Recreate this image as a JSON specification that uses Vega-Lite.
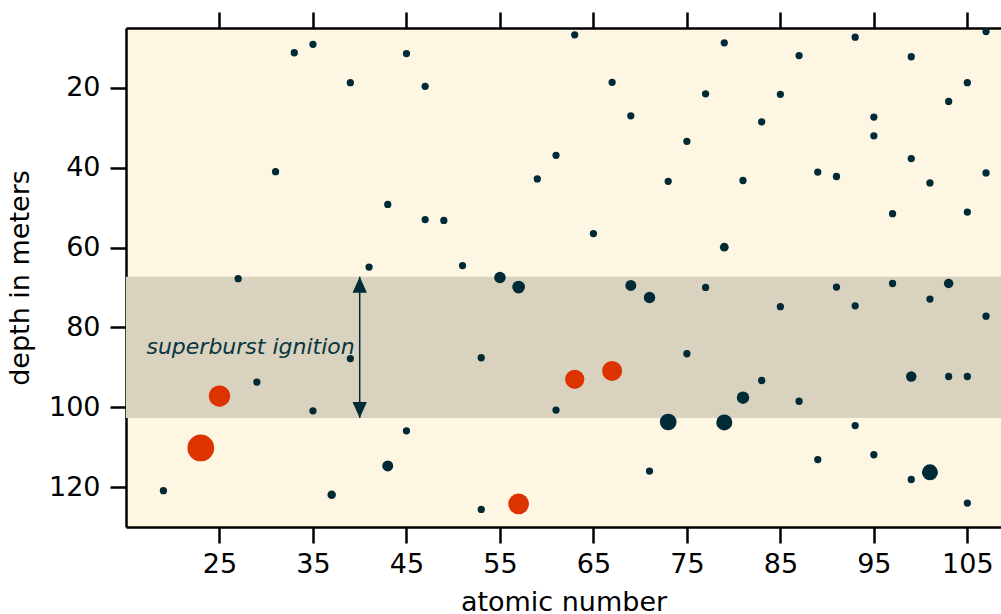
{
  "$schema": "https://vega.github.io/schema/vega-lite/v6.json",
  "width": 875,
  "height": 499,
  "autosize": {"type": "none"},
  "padding": {"left": 126, "top": 28, "right": 0, "bottom": 87},
  "background": "white",
  "config": {
    "view": {"fill": "#fdf6e3", "stroke": null},
    "font": "DejaVu Sans",
    "axis": {
      "domainColor": "black",
      "domainWidth": 2.5,
      "tickColor": "black",
      "tickWidth": 2.5,
      "tickSize": 16,
      "labelFont": "DejaVu Sans",
      "labelFontSize": 27,
      "labelColor": "black",
      "titleFont": "DejaVu Sans",
      "titleFontSize": 27,
      "titleFontWeight": "normal",
      "titleColor": "black",
      "grid": false,
      "labelPadding": 8
    }
  },
  "datasets": {
    "pts": [
      {"Z": 33, "depth": 11.2, "mag": 5.3, "kind": "normal"},
      {"Z": 35, "depth": 9.1, "mag": 5.3, "kind": "normal"},
      {"Z": 39, "depth": 18.7, "mag": 5.3, "kind": "normal"},
      {"Z": 45, "depth": 11.4, "mag": 5.3, "kind": "normal"},
      {"Z": 47, "depth": 19.6, "mag": 5.3, "kind": "normal"},
      {"Z": 31, "depth": 41.0, "mag": 5.3, "kind": "normal"},
      {"Z": 43, "depth": 49.2, "mag": 5.3, "kind": "normal"},
      {"Z": 47, "depth": 53.0, "mag": 5.3, "kind": "normal"},
      {"Z": 49, "depth": 53.2, "mag": 5.3, "kind": "normal"},
      {"Z": 41, "depth": 64.9, "mag": 5.3, "kind": "normal"},
      {"Z": 51, "depth": 64.5, "mag": 5.3, "kind": "normal"},
      {"Z": 27, "depth": 67.8, "mag": 5.3, "kind": "normal"},
      {"Z": 55, "depth": 67.5, "mag": 13.2, "kind": "normal"},
      {"Z": 57, "depth": 69.9, "mag": 16.1, "kind": "normal"},
      {"Z": 63, "depth": 6.7, "mag": 5.3, "kind": "normal"},
      {"Z": 79, "depth": 8.7, "mag": 5.3, "kind": "normal"},
      {"Z": 87, "depth": 11.9, "mag": 5.3, "kind": "normal"},
      {"Z": 93, "depth": 7.3, "mag": 5.3, "kind": "normal"},
      {"Z": 99, "depth": 12.2, "mag": 5.3, "kind": "normal"},
      {"Z": 107, "depth": 5.9, "mag": 5.3, "kind": "normal"},
      {"Z": 67, "depth": 18.6, "mag": 5.3, "kind": "normal"},
      {"Z": 77, "depth": 21.5, "mag": 5.3, "kind": "normal"},
      {"Z": 85, "depth": 21.6, "mag": 5.3, "kind": "normal"},
      {"Z": 105, "depth": 18.7, "mag": 5.3, "kind": "normal"},
      {"Z": 103, "depth": 23.4, "mag": 5.3, "kind": "normal"},
      {"Z": 69, "depth": 27.0, "mag": 5.3, "kind": "normal"},
      {"Z": 83, "depth": 28.5, "mag": 5.3, "kind": "normal"},
      {"Z": 95, "depth": 27.3, "mag": 5.3, "kind": "normal"},
      {"Z": 95, "depth": 32.0, "mag": 5.3, "kind": "normal"},
      {"Z": 75, "depth": 33.4, "mag": 5.3, "kind": "normal"},
      {"Z": 61, "depth": 36.9, "mag": 5.3, "kind": "normal"},
      {"Z": 99, "depth": 37.7, "mag": 5.3, "kind": "normal"},
      {"Z": 59, "depth": 42.8, "mag": 5.3, "kind": "normal"},
      {"Z": 73, "depth": 43.4, "mag": 5.3, "kind": "normal"},
      {"Z": 81, "depth": 43.2, "mag": 5.3, "kind": "normal"},
      {"Z": 89, "depth": 41.1, "mag": 5.3, "kind": "normal"},
      {"Z": 91, "depth": 42.2, "mag": 5.3, "kind": "normal"},
      {"Z": 101, "depth": 43.8, "mag": 5.3, "kind": "normal"},
      {"Z": 107, "depth": 41.3, "mag": 5.3, "kind": "normal"},
      {"Z": 97, "depth": 51.5, "mag": 5.3, "kind": "normal"},
      {"Z": 105, "depth": 51.1, "mag": 5.3, "kind": "normal"},
      {"Z": 65, "depth": 56.5, "mag": 5.3, "kind": "normal"},
      {"Z": 79, "depth": 59.9, "mag": 7.6, "kind": "normal"},
      {"Z": 69, "depth": 69.5, "mag": 12.0, "kind": "normal"},
      {"Z": 71, "depth": 72.5, "mag": 13.0, "kind": "normal"},
      {"Z": 77, "depth": 70.0, "mag": 5.3, "kind": "normal"},
      {"Z": 85, "depth": 74.8, "mag": 5.3, "kind": "normal"},
      {"Z": 91, "depth": 69.9, "mag": 5.3, "kind": "normal"},
      {"Z": 93, "depth": 74.6, "mag": 5.3, "kind": "normal"},
      {"Z": 97, "depth": 69.0, "mag": 5.3, "kind": "normal"},
      {"Z": 101, "depth": 72.9, "mag": 5.3, "kind": "normal"},
      {"Z": 103, "depth": 69.0, "mag": 9.0, "kind": "normal"},
      {"Z": 107, "depth": 77.2, "mag": 5.3, "kind": "normal"},
      {"Z": 75, "depth": 86.6, "mag": 5.3, "kind": "normal"},
      {"Z": 63, "depth": 93.0, "mag": 37.2, "kind": "burst"},
      {"Z": 67, "depth": 90.9, "mag": 40.0, "kind": "burst"},
      {"Z": 83, "depth": 93.3, "mag": 5.3, "kind": "normal"},
      {"Z": 99, "depth": 92.3, "mag": 11.0, "kind": "normal"},
      {"Z": 103, "depth": 92.3, "mag": 5.3, "kind": "normal"},
      {"Z": 105, "depth": 92.3, "mag": 5.3, "kind": "normal"},
      {"Z": 61, "depth": 100.7, "mag": 5.3, "kind": "normal"},
      {"Z": 81, "depth": 97.6, "mag": 15.6, "kind": "normal"},
      {"Z": 87, "depth": 98.5, "mag": 5.3, "kind": "normal"},
      {"Z": 73, "depth": 103.7, "mag": 27.9, "kind": "normal"},
      {"Z": 79, "depth": 103.8, "mag": 25.6, "kind": "normal"},
      {"Z": 93, "depth": 104.6, "mag": 5.3, "kind": "normal"},
      {"Z": 89, "depth": 113.1, "mag": 5.3, "kind": "normal"},
      {"Z": 95, "depth": 111.9, "mag": 5.3, "kind": "normal"},
      {"Z": 71, "depth": 116.0, "mag": 5.3, "kind": "normal"},
      {"Z": 99, "depth": 118.1, "mag": 5.3, "kind": "normal"},
      {"Z": 101, "depth": 116.3, "mag": 25.6, "kind": "normal"},
      {"Z": 105, "depth": 124.0, "mag": 5.3, "kind": "normal"},
      {"Z": 57, "depth": 124.2, "mag": 42.8, "kind": "burst"},
      {"Z": 39, "depth": 87.8, "mag": 5.3, "kind": "normal"},
      {"Z": 53, "depth": 87.6, "mag": 5.3, "kind": "normal"},
      {"Z": 29, "depth": 93.7, "mag": 5.3, "kind": "normal"},
      {"Z": 25, "depth": 97.2, "mag": 45.4, "kind": "burst"},
      {"Z": 35, "depth": 100.9, "mag": 5.3, "kind": "normal"},
      {"Z": 45, "depth": 105.9, "mag": 5.3, "kind": "normal"},
      {"Z": 23, "depth": 110.2, "mag": 71.3, "kind": "burst"},
      {"Z": 43, "depth": 114.7, "mag": 12.0, "kind": "normal"},
      {"Z": 19, "depth": 120.9, "mag": 5.3, "kind": "normal"},
      {"Z": 37, "depth": 121.9, "mag": 7.2, "kind": "normal"},
      {"Z": 53, "depth": 125.6, "mag": 5.3, "kind": "normal"}
    ],
    "band": [{"top": 67.3, "bottom": 102.7, "Z": 40, "label": "superburst ignition", "labelDepth": 85}]
  },
  "resolve": {"axis": {"x": "independent", "y": "independent"}},
  "layer": [
    {
      "data": {"name": "band"},
      "mark": {"type": "rect", "color": "#d9d2bf"},
      "encoding": {
        "y": {"field": "top", "type": "quantitative", "scale": {"domain": [5, 130], "reverse": true, "nice": false, "zero": false}, "axis": null},
        "y2": {"field": "bottom"}
      }
    },
    {
      "data": {"name": "pts"},
      "mark": {"type": "circle", "opacity": 1, "clip": true},
      "encoding": {
        "x": {"field": "Z", "type": "quantitative", "scale": {"domain": [15, 108.6], "nice": false, "zero": false},
              "axis": {"orient": "bottom", "title": "atomic number", "values": [25, 35, 45, 55, 65, 75, 85, 95, 105], "titlePadding": 12}},
        "y": {"field": "depth", "type": "quantitative", "scale": {"domain": [5, 130], "reverse": true, "nice": false, "zero": false},
              "axis": {"orient": "left", "title": "depth in meters", "values": [20, 40, 60, 80, 100, 120], "labelPadding": 10, "titlePadding": 14}},
        "size": {"field": "mag", "type": "quantitative", "scale": {"type": "linear", "domain": [0, 100], "range": [0, 1000], "zero": true}, "legend": null},
        "color": {"field": "kind", "type": "nominal", "scale": {"domain": ["normal", "burst"], "range": ["#002b36", "#dc3300"]}, "legend": null}
      }
    },
    {
      "data": {"name": "band"},
      "mark": {"type": "rule", "color": "#002b36", "strokeWidth": 1.5},
      "encoding": {
        "x": {"field": "Z", "type": "quantitative", "scale": {"domain": [15, 108.6], "nice": false, "zero": false}, "axis": null},
        "y": {"field": "top", "type": "quantitative", "scale": {"domain": [5, 130], "reverse": true, "nice": false, "zero": false}, "axis": null},
        "y2": {"field": "bottom"}
      }
    },
    {
      "data": {"name": "band"},
      "mark": {"type": "point", "shape": "M0,-1L-0.9,1L0.9,1Z", "filled": true, "opacity": 1, "size": 256, "color": "#002b36", "yOffset": 8},
      "encoding": {
        "x": {"field": "Z", "type": "quantitative", "scale": {"domain": [15, 108.6], "nice": false, "zero": false},
              "axis": {"orient": "top", "title": null, "labels": false, "values": [25, 35, 45, 55, 65, 75, 85, 95, 105]}},
        "y": {"field": "top", "type": "quantitative", "scale": {"domain": [5, 130], "reverse": true, "nice": false, "zero": false}, "axis": null}
      }
    },
    {
      "data": {"name": "band"},
      "mark": {"type": "point", "shape": "M0,1L-0.9,-1L0.9,-1Z", "filled": true, "opacity": 1, "size": 256, "color": "#002b36", "yOffset": -8},
      "encoding": {
        "x": {"field": "Z", "type": "quantitative", "scale": {"domain": [15, 108.6], "nice": false, "zero": false}, "axis": null},
        "y": {"field": "bottom", "type": "quantitative", "scale": {"domain": [5, 130], "reverse": true, "nice": false, "zero": false}, "axis": null}
      }
    },
    {
      "data": {"name": "band"},
      "mark": {"type": "text", "align": "right", "baseline": "middle", "dx": -5, "font": "DejaVu Sans", "fontStyle": "italic", "fontSize": 22, "color": "#073642"},
      "encoding": {
        "x": {"field": "Z", "type": "quantitative", "scale": {"domain": [15, 108.6], "nice": false, "zero": false}, "axis": null},
        "y": {"field": "labelDepth", "type": "quantitative", "scale": {"domain": [5, 130], "reverse": true, "nice": false, "zero": false}, "axis": null},
        "text": {"field": "label"}
      }
    }
  ]
}
